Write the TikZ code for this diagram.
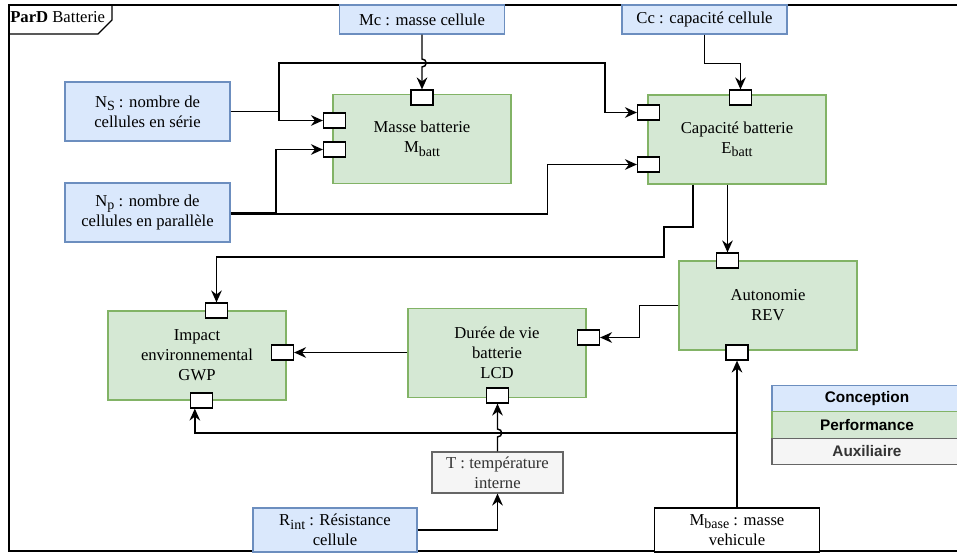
\documentclass[tikz,border=0pt]{standalone}
\usepackage{fontspec}
\setmainfont{Liberation Serif}
\newfontfamily\legendfont{Liberation Sans}
\usetikzlibrary{arrows.meta}
\definecolor{concfill}{HTML}{DAE8FC}
\definecolor{concline}{HTML}{6C8EBF}
\definecolor{perffill}{HTML}{D5E8D4}
\definecolor{perfline}{HTML}{82B366}
\definecolor{auxfill}{HTML}{F5F5F5}
\definecolor{auxline}{HTML}{666666}
\definecolor{auxtext}{HTML}{333333}
\newcommand{\indice}[1]{\raisebox{-0.45ex}{\fontsize{10.5}{12}\selectfont #1}}
\tikzset{
    box/.style={draw,rectangle,align=center,inner sep=1pt,line width=0.8pt,
        font=\fontsize{12.5}{15}\selectfont},
    conc/.style={box,fill=concfill,draw=concline,minimum width=123.75pt},
    perf/.style={box,fill=perffill,draw=perfline,minimum width=133.5pt,minimum height=66.75pt},
    aux/.style={box,fill=auxfill,draw=auxline,text=auxtext},
    ext/.style={box,fill=white,draw=black},
    port/.style={draw,fill=white,line width=0.9pt,minimum width=16.5pt,minimum height=11.25pt,inner sep=0pt},
    conn/.style={line width=1.1pt,-{Stealth[length=9pt,width=8pt,inset=3pt]}},
    legend/.style={draw,minimum width=142.5pt,minimum height=19.9pt,inner sep=0pt,line width=0.9pt,
        font=\legendfont\bfseries\fontsize{11.5}{13}\selectfont}
}

\begin{document}
\begin{tikzpicture}[x=0.75pt,y=-0.75pt]
    \useasboundingbox (0,0) rectangle (957,554);
    \draw[line width=1pt] (9,5) rectangle (975,551);
    \draw[line width=0.8pt] (9,34) -- (98,34) -- (112,20) -- (112,5);
    \node[anchor=west,inner sep=0pt,font=\fontsize{12.5}{15}\selectfont] (title) at (10,17) {\textbf{ParD} Batterie};

    \node[conc,minimum height=21.75pt] (mc) at (422,19.5) {Mc : masse cellule};
    \node[conc,minimum height=21.75pt] (cc) at (704.5,19.5) {Cc : capacité cellule};
    \node[conc,minimum height=44.25pt] (ns) at (147.5,111.5) {N\indice{S} : nombre de\\cellules en série};
    \node[conc,minimum height=44.25pt] (np) at (147.5,212.5) {N\indice{p} : nombre de\\cellules en parallèle};
    \node[perf] (masse) at (422,139) {Masse batterie\\M\indice{batt}};
    \node[perf] (capa) at (737,139.5) {Capacité batterie\\E\indice{batt}};
    \node[perf] (auto) at (768,305.5) {Autonomie\\REV};
    \node[perf] (duree) at (497,353) {Durée de vie\\batterie\\LCD};
    \node[perf] (impact) at (197,355.5) {Impact\\environnemental\\GWP};
    \node[aux,minimum width=98.25pt,minimum height=30.75pt] (temp) at (497.5,472.5) {T : température\\interne};
    \node[conc,minimum width=123pt,minimum height=33pt] (rint) at (335,530) {R\indice{int} : Résistance\\cellule};
    \node[ext,minimum width=123.75pt,minimum height=33pt] (mbase) at (737,530) {M\indice{base} : masse\\vehicule};

    \node[port] (mtop) at (422,97.5) {};
    \node[port] (mleft1) at (334.5,120.5) {};
    \node[port] (mleft2) at (334.5,149.5) {};
    \node[port] (ctop) at (740.5,97.5) {};
    \node[port] (cleft1) at (648.5,112.5) {};
    \node[port] (cleft2) at (648.5,164.5) {};
    \node[port] (atop) at (727.5,260.5) {};
    \node[port] (abot) at (737,352.5) {};
    \node[port] (dright) at (588.5,337.5) {};
    \node[port] (dbot) at (497.5,395.5) {};
    \node[port] (itop) at (216.5,310.5) {};
    \node[port] (iright) at (282.5,352.5) {};
    \node[port] (ibot) at (201.5,400.5) {};

    \coordinate (nsfork) at (279,111.5);
    \coordinate (npfork) at (276,212.5);
    \coordinate (mjoin) at (737,433);
    \draw[conn] (mc.south) -- (422,59) .. controls (427.5,59) and (427.5,67) .. (422,67) -- (mtop.north);
    \draw[conn] (ns.east) -- (nsfork) |- (mleft1.west);
    \draw[conn] (nsfork) |- (605,63) |- (cleft1.west);
    \draw[conn] (np.east) -- (npfork) |- (mleft2.west);
    \draw[conn] ([yshift=-1pt]np.east) -- ++(317,0) |- (cleft2.west);
    \draw[conn] (cc.south) -- ++(0,29) -| (ctop.north);
    \draw[conn] (capa.south -| atop) -- (atop.north);
    \draw[conn] ([xshift=-33pt]capa.south) |- (664,227) -- (664,257) -| (itop.north);
    \draw[conn] (auto.west) -- ++(-39,0) |- (dright.east);
    \draw[conn] (duree.west |- iright) -- (iright.east);
    \draw[conn] (mbase.north) -- (abot.south);
    \draw[conn] (mjoin) -| ([xshift=-5pt]ibot.south);
    \draw[conn] (temp.north) -- (497.5,437) .. controls (503,437) and (503,429) .. (497.5,429) -- (dbot.south);
    \draw[conn] (rint.east) -| (temp.south);

    \node[legend,fill=concfill,draw=concline] (lconc) at (867,398.5) {Conception};
    \node[legend,fill=perffill,draw=perfline] (lperf) at (867,425) {Performance};
    \node[legend,fill=auxfill,draw=auxline,text=auxtext] (laux) at (867,451.5) {Auxiliaire};
\end{tikzpicture}
\end{document}
